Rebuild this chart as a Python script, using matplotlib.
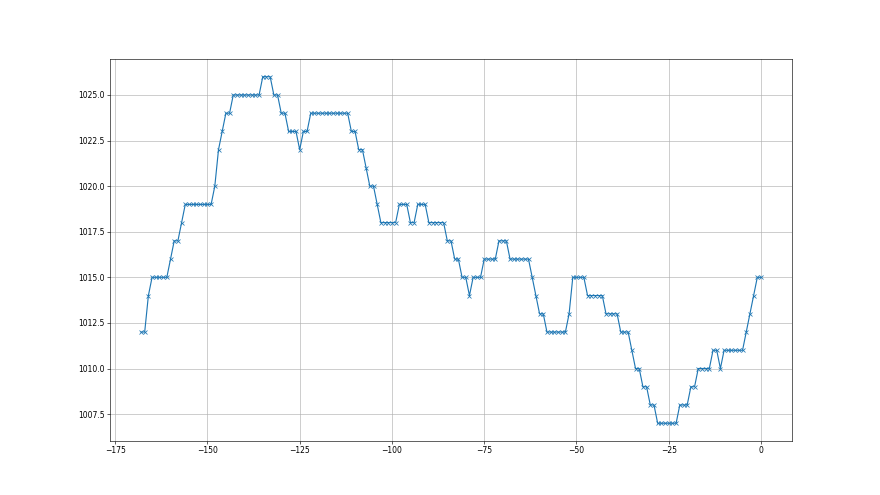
import numpy as np
from matplotlib import pyplot as plt

# hours relative to now, one reading per hour
hours = np.arange(-168, 1)

# pressure readings (hPa), oldest first
pressure = [
    1012, 1012, 1014, 1015, 1015, 1015, 1015, 1015, 1016, 1017, 1017, 1018,
    1019, 1019, 1019, 1019, 1019, 1019, 1019, 1019, 1020, 1022, 1023, 1024,
    1024, 1025, 1025, 1025, 1025, 1025, 1025, 1025, 1025, 1026, 1026, 1026,
    1025, 1025, 1024, 1024, 1023, 1023, 1023, 1022, 1023, 1023,
    1024, 1024, 1024, 1024, 1024, 1024, 1024, 1024, 1024, 1024, 1024,
    1023, 1023, 1022, 1022, 1021, 1020, 1020, 1019,
    1018, 1018, 1018, 1018, 1018, 1019, 1019, 1019, 1018, 1018,
    1019, 1019, 1019, 1018, 1018, 1018, 1018, 1018,
    1017, 1017, 1016, 1016, 1015, 1015, 1014, 1015, 1015, 1015,
    1016, 1016, 1016, 1016, 1017, 1017, 1017,
    1016, 1016, 1016, 1016, 1016, 1016, 1015, 1014, 1013, 1013,
    1012, 1012, 1012, 1012, 1012, 1012, 1013,
    1015, 1015, 1015, 1015, 1014, 1014, 1014, 1014, 1014,
    1013, 1013, 1013, 1013, 1012, 1012, 1012, 1011,
    1010, 1010, 1009, 1009, 1008, 1008,
    1007, 1007, 1007, 1007, 1007, 1007, 1008, 1008, 1008, 1009, 1009,
    1010, 1010, 1010, 1010, 1011, 1011, 1010,
    1011, 1011, 1011, 1011, 1011, 1011, 1012, 1013, 1014, 1015, 1015,
]


def main():
    fig = plt.figure(figsize=(16, 9), dpi=55)
    ax = fig.add_subplot(1, 1, 1)
    ax.grid(which="both")
    ax.set_axisbelow(True)

    ax.plot(hours, pressure, marker='x')

    fig.savefig('out.png', dpi=55)


if __name__ == '__main__':
    main()
